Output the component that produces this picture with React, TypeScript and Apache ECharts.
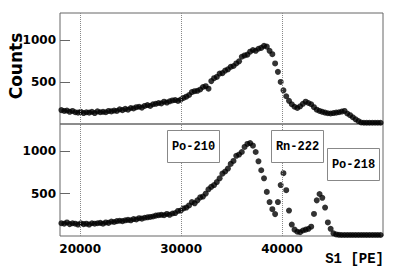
import React, { useEffect, useRef } from "react";
import * as echarts from "echarts";

const BIN_START = 18000;
const BIN_WIDTH = 275;

// Upper panel counts per bin
const topCounts = [
  165, 155, 160, 145, 155, 140, 135, 145, 130, 140,
  135, 145, 130, 150, 140, 145, 140, 155, 150, 160,
  155, 175, 165, 180, 170, 190, 185, 200, 205, 195,
  215, 225, 215, 235, 240, 250, 245, 265, 255, 270,
  280, 285, 275, 290, 310, 325, 345, 380, 390, 395,
  410, 440, 450, 420, 510, 545, 560, 600, 605, 635,
  650, 680, 690, 720, 745, 800, 815, 825, 860, 880,
  870, 895, 905, 930, 920, 870, 830, 720, 620, 500,
  400, 330, 275, 235, 205, 190, 210, 240, 265, 250,
  235, 200, 170, 155, 145, 135, 128, 125, 130, 135,
  140, 148, 155, 125, 105, 80, 56, 35, 18, 15,
  15, 15, 15, 15, 15, 15,
];

// Lower panel counts per bin
const bottomCounts = [
  150, 145, 160, 140, 150, 145, 135, 150, 140, 145,
  135, 150, 145, 150, 155, 145, 160, 155, 170, 165,
  175, 180, 175, 185, 190, 185, 200, 195, 210, 205,
  215, 220, 225, 230, 240, 245, 250, 245, 260, 250,
  265, 270, 295, 300, 325, 335, 360, 400, 385, 420,
  455, 465, 500, 550, 580, 600, 635, 680, 735, 760,
  795, 850, 885, 945, 960, 990, 1050, 1085, 1095, 1065,
  990, 880, 775, 680, 520, 400, 316, 258, 400, 600,
  740, 540, 300, 135, 75, 50, 45, 65, 75, 85,
  110, 260, 420, 495, 450, 335, 160, 85, 32, 18,
  14, 12, 12, 12, 12, 12, 12, 12, 12, 12,
  12, 12, 12, 12, 12, 12,
];

const X_MIN = 18000;
const X_MAX = 50000;
const Y_MAX = 1320;
const xGridLines = [20000, 30000, 40000];
const xTickLabels = [20000, 30000, 40000];
const yTickLabels = [500, 1000];
const peakLabels = ["Po-210", "Rn-222", "Po-218"];

const toPoints = (counts: number[]) =>
  counts.map((c, i) => [BIN_START + (i + 0.5) * BIN_WIDTH, c]);

export default function App() {
  const ref = useRef<HTMLDivElement>(null);

  useEffect(() => {
    if (!ref.current) return;
    const chart = echarts.init(ref.current, undefined, { renderer: "svg" });

    const tickFont = {
      fontFamily: "DejaVu Sans",
      fontWeight: "bold" as const,
      fontSize: 12,
      color: "#000",
      formatter: (v: number) => String(v),
    };

    const makeY = (gridIndex: number) => ({
      type: "value" as const,
      gridIndex,
      min: 0,
      max: Y_MAX,
      axisLine: { show: false },
      splitLine: { show: false },
      axisTick: {
        show: true,
        inside: true,
        length: 10,
        customValues: yTickLabels,
        lineStyle: { color: "#666", width: 1 },
      },
      axisLabel: { ...tickFont, margin: 4, customValues: yTickLabels },
    });

    const markLine = {
      silent: true,
      symbol: "none",
      label: { show: false },
      lineStyle: { color: "#888", type: "dotted" as const, width: 1 },
      data: xGridLines.map((v) => ({ xAxis: v })),
    };

    const boxes = [
      { x: 167, y: 130, w: 52, h: 32 },
      { x: 271, y: 130, w: 52, h: 32 },
      { x: 327, y: 148, w: 52, h: 32 },
    ];

    chart.setOption({
      animation: false,
      backgroundColor: "#fff",
      grid: [
        { left: 60, top: 13, width: 323, height: 111, show: true, borderColor: "#666", borderWidth: 1 },
        { left: 60, top: 124, width: 323, height: 112, show: true, borderColor: "#666", borderWidth: 1 },
      ],
      xAxis: [
        {
          type: "value",
          gridIndex: 0,
          min: X_MIN,
          max: X_MAX,
          axisLine: { show: false },
          axisTick: { show: false },
          splitLine: { show: false },
          axisLabel: { show: false },
        },
        {
          type: "value",
          gridIndex: 1,
          min: X_MIN,
          max: X_MAX,
          axisLine: { show: false },
          axisTick: { show: false },
          splitLine: { show: false },
          axisLabel: { ...tickFont, margin: 7, customValues: xTickLabels },
        },
      ],
      yAxis: [makeY(0), makeY(1)],
      series: [
        {
          type: "scatter",
          xAxisIndex: 0,
          yAxisIndex: 0,
          data: toPoints(topCounts),
          symbolSize: 6,
          itemStyle: { color: "#000" },
          markLine,
        },
        {
          type: "scatter",
          xAxisIndex: 1,
          yAxisIndex: 1,
          data: toPoints(bottomCounts),
          symbolSize: 6,
          itemStyle: { color: "#000" },
          markLine,
        },
      ],
      graphic: [
        {
          type: "text",
          x: 16,
          y: 66,
          rotation: Math.PI / 2,
          style: {
            text: "Counts",
            fontFamily: "DejaVu Sans",
            fontWeight: "bold",
            fontSize: 17,
            fill: "#000",
            align: "center",
            verticalAlign: "middle",
          },
        },
        {
          type: "text",
          x: 384,
          y: 259,
          style: {
            text: "S1 [PE]",
            fontFamily: "Liberation Mono",
            fontWeight: "bold",
            fontSize: 14,
            fill: "#000",
            align: "right",
            verticalAlign: "middle",
          },
        },
        ...boxes.flatMap((b, i) => [
          {
            type: "rect",
            shape: { x: b.x + 0.5, y: b.y + 0.5, width: b.w, height: b.h },
            style: { fill: "#fff", stroke: "#888", lineWidth: 1 },
            z: 10,
          },
          {
            type: "text",
            x: b.x + b.w / 2 + 0.5,
            y: b.y + b.h / 2 + 0.5,
            z: 11,
            style: {
              text: peakLabels[i],
              fontFamily: "Liberation Mono",
              fontWeight: "bold",
              fontSize: 12,
              fill: "#000",
              align: "center",
              verticalAlign: "middle",
            },
          },
        ]),
      ],
    });

    return () => chart.dispose();
  }, []);

  return (
    <div
      ref={ref}
      style={{ position: "fixed", left: 0, top: 0, width: 399, height: 274 }}
    />
  );
}
